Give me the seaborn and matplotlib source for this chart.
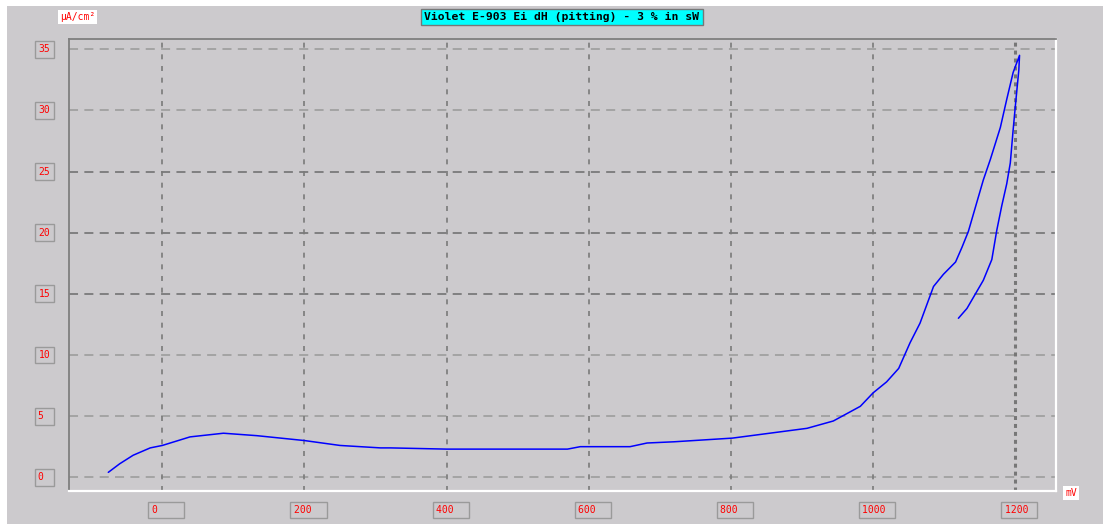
import matplotlib
matplotlib.use("Agg")
import matplotlib.pyplot as plt
import matplotlib.transforms as mtransforms
from matplotlib.patches import Rectangle
import seaborn as sns
import pandas as pd

# potential scan (mV) and current density (uA/cm2), forward then reverse
potential_mv = [-76, -60, -41, -17, 0, 39, 86, 133, 200, 250, 307, 321, 400, 500,
                570, 588, 658, 682, 720, 802, 907, 944, 982, 1000, 1019, 1036,
                1052, 1066, 1085, 1099, 1116, 1125, 1134, 1143, 1155, 1165, 1179,
                1188, 1197, 1206,
                1205, 1201, 1197, 1193, 1188, 1181, 1174, 1167, 1155, 1143,
                1132, 1120]
current_ua = [0.4, 1.1, 1.8, 2.4, 2.6, 3.3, 3.6, 3.4, 3.0, 2.6, 2.4, 2.4, 2.3, 2.3,
              2.3, 2.5, 2.5, 2.8, 2.9, 3.2, 4.0, 4.6, 5.8, 6.9, 7.8, 8.9,
              11.0, 12.6, 15.6, 16.6, 17.6, 18.8, 20.1, 21.9, 24.3, 26.0, 28.6,
              30.9, 33.1, 34.5,
              33.3, 30.9, 28.4, 25.7, 24.0, 22.2, 20.2, 17.8, 16.1, 14.9,
              13.8, 13.0]

x_ticks = [0, 200, 400, 600, 800, 1000, 1200]
y_ticks = [0, 5, 10, 15, 20, 25, 30, 35]
title = "Violet E-903 Ei dH (pitting) - 3 % in sW"

df = pd.DataFrame({"mV": potential_mv, "uA": current_ua})

sns.set_style("white")
bg = "#cccacd"

fig = plt.figure(figsize=(11.03, 5.24), dpi=100, facecolor="white")
fig.patches.append(Rectangle((7 / 1103, 0), 1, 1 - 6 / 524, transform=fig.transFigure,
                             facecolor=bg, edgecolor="none", zorder=-10))
ax = fig.add_axes([68.7 / 1103, 1 - 490.7 / 524, (1056 - 68.7) / 1103, (490.7 - 38.7) / 524])
ax.set_facecolor(bg)

sns.lineplot(data=df, x="mV", y="uA", sort=False, estimator=None, color="#0000ff",
             linewidth=1.1, ax=ax)

ax.set_xlim(-131.7, 1257.3)
ax.set_ylim(-1.1, 35.86)
ax.set_xticks(x_ticks)
ax.set_yticks(y_ticks)
ax.tick_params(length=0, labelbottom=False, labelleft=False)
ax.set_xlabel("")
ax.set_ylabel("")

# grid
for y in y_ticks:
    dark = y in (15, 20, 25)
    ax.axhline(y, color="#7a7a7a" if dark else "#a0a0a0", lw=1.3,
               ls=(0, (5, 3.5)), zorder=0)
for x in x_ticks:
    if x == 1200:
        ax.axvline(x, color="#777777", lw=2.2, ls=(0, (1.3, 1.3)), zorder=0)
    else:
        ax.axvline(x, color="#7a7a7a", lw=1.2, ls=(0, (3.0, 4.0)), zorder=0)

for side in ("left", "top"):
    ax.spines[side].set_color("#7f7f7f")
    ax.spines[side].set_linewidth(1.3)
for side in ("right", "bottom"):
    ax.spines[side].set_color("white")
    ax.spines[side].set_linewidth(1.6)

box = dict(boxstyle="square,pad=0.35", facecolor=bg, edgecolor="#9a9a9a", linewidth=1.0)
tick_font = dict(family="DejaVu Sans Mono", fontsize=7, color="red")

# y tick labels in small boxes
ytrans = mtransforms.blended_transform_factory(fig.transFigure, ax.transData)
for y in y_ticks:
    ax.text(38.5 / 1103, y, f"{y:<2}", transform=ytrans, ha="left", va="center",
            bbox=box, **tick_font)

# x tick labels in small boxes
xtrans = mtransforms.blended_transform_factory(ax.transData, fig.transFigure)
for x in x_ticks:
    ax.text(x - 15, 1 - 510 / 524, f"{x:<5}", transform=xtrans, ha="left", va="center",
            bbox=box, **tick_font)

# units
fig.text(60 / 1103, 1 - 17 / 524, "µA/cm²", ha="left", va="center",
         bbox=dict(boxstyle="square,pad=0.2", facecolor="white", edgecolor="none"),
         **tick_font)
fig.text(1065 / 1103, 1 - 493 / 524, "mV", ha="left", va="center",
         bbox=dict(boxstyle="square,pad=0.2", facecolor="white", edgecolor="none"),
         **tick_font)

# title banner
fig.text(562 / 1103, 1 - 17 / 524, title, ha="center", va="center",
         family="DejaVu Sans Mono", fontsize=8.2, fontweight="bold", color="black",
         bbox=dict(boxstyle="square,pad=0.3", facecolor="#00ffff", edgecolor="#777777",
                   linewidth=1.0))

fig.savefig("out.png", dpi=100, facecolor=fig.get_facecolor())
